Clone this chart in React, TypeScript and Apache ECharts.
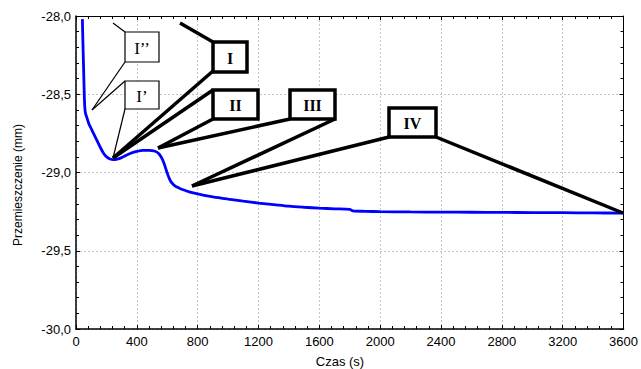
import React, { useEffect, useRef } from "react";
import * as echarts from "echarts";

// Time (s)
const times = [
  42, 45, 49, 53, 57, 62, 70, 85, 100, 120, 140, 160, 180, 200, 220, 245, 270,
  300, 330, 360, 400, 440, 480, 520, 545, 565, 580, 595, 610, 625, 650, 680,
  710, 750, 800, 850, 900, 1000, 1100, 1200, 1300, 1400, 1500, 1600, 1700,
  1800, 1820, 1900, 2000, 2200, 2400, 2600, 2800, 3000, 3200, 3400, 3600,
];
// Displacement (mm)
const displacement = [
  -28.02, -28.15, -28.3, -28.45, -28.57, -28.62, -28.645, -28.69, -28.72,
  -28.76, -28.8, -28.84, -28.875, -28.9, -28.912, -28.918, -28.915, -28.905,
  -28.89, -28.877, -28.865, -28.858, -28.858, -28.864, -28.88, -28.91, -28.945,
  -28.99, -29.03, -29.06, -29.085, -29.1, -29.112, -29.125, -29.137, -29.147,
  -29.156, -29.17, -29.183, -29.195, -29.205, -29.215, -29.222, -29.228,
  -29.232, -29.236, -29.245, -29.248, -29.25, -29.252, -29.253, -29.254,
  -29.255, -29.256, -29.257, -29.258, -29.26,
];

const xTicks = { min: 0, max: 3600, interval: 400 };
const yTicks = { min: -30, max: -28, interval: 0.5 };

const xTitle = "Czas (s)";
const yTitle = "Przemieszczenie (mm)";

const thinLabels = ["I’’", "I’"];
const boldLabels = ["I", "II", "III", "IV"];

export default function App() {
  const ref = useRef<HTMLDivElement>(null);

  useEffect(() => {
    if (!ref.current) return;
    const chart = echarts.init(ref.current, null, { renderer: "svg" });
    const data = times.map((t, i) => [t, displacement[i]]);

    const fmtY = (v: number) => v.toFixed(1).replace(".", ",");
    const fmtX = (v: number) => String(Math.round(v));
    const gridLine = { show: true, lineStyle: { color: "#c4c4c4", type: [2, 2], width: 1 } };
    const axisLine = { show: true, onZero: false, lineStyle: { color: "#000", width: 1.5 } };
    const tick = { show: true, inside: true, length: 4, lineStyle: { color: "#000", width: 1 } };
    const minor = { show: true, splitNumber: 5, length: 3, lineStyle: { color: "#000", width: 1 } };
    const labelFont = { color: "#000", fontSize: 13, fontFamily: "Liberation Sans, Arial, sans-serif" };

    const thin = { stroke: "#000", lineWidth: 1.2, fill: "none" };
    const thick = { stroke: "#000", lineWidth: 3.5, fill: "none" };
    const line = (x1: number, y1: number, x2: number, y2: number, style: any) => ({
      type: "line",
      shape: { x1, y1, x2, y2 },
      style,
      z: 100,
    });
    const box = (x: number, y: number, w: number, h: number, text: string, style: any, bold: boolean, size: number) => ({
      type: "group",
      z: 101,
      children: [
        { type: "rect", shape: { x, y, width: w, height: h }, style: { ...style, fill: "#fff" }, z: 101 },
        {
          type: "text",
          x: x + w / 2,
          y: y + h / 2 + 1,
          style: {
            text,
            fill: "#000",
            font: `${bold ? "bold " : ""}${size}px "Liberation Serif", "Times New Roman", serif`,
            align: "center",
            verticalAlign: "middle",
          },
          z: 102,
        },
      ],
    });

    chart.setOption({
      animation: false,
      backgroundColor: "#fff",
      grid: { left: 76, right: 15, top: 16, bottom: 40, containLabel: false },
      xAxis: [
        {
          type: "value",
          position: "bottom",
          ...xTicks,
          axisLine,
          axisTick: tick,
          minorTick: minor,
          splitLine: gridLine,
          axisLabel: { ...labelFont, margin: 6, formatter: fmtX, showMinLabel: true, showMaxLabel: true },
        },
        {
          type: "value",
          position: "top",
          ...xTicks,
          axisLine: { ...axisLine, lineStyle: { color: "#000", width: 1 } },
          axisTick: tick,
          minorTick: minor,
          splitLine: { show: false },
          axisLabel: { show: false },
        },
      ],
      yAxis: [
        {
          type: "value",
          position: "left",
          ...yTicks,
          axisLine,
          axisTick: tick,
          minorTick: minor,
          splitLine: gridLine,
          axisLabel: { ...labelFont, margin: 5, formatter: fmtY, showMinLabel: true, showMaxLabel: true },
        },
        {
          type: "value",
          position: "right",
          ...yTicks,
          axisLine: { ...axisLine, lineStyle: { color: "#000", width: 1 } },
          axisTick: tick,
          minorTick: minor,
          splitLine: { show: false },
          axisLabel: { show: false },
        },
      ],
      series: [
        {
          type: "line",
          data,
          xAxisIndex: 0,
          yAxisIndex: 0,
          showSymbol: false,
          smooth: 0.3,
          lineStyle: { color: "#0000ff", width: 2.8 },
          z: 5,
        },
      ],
      graphic: [
        {
          type: "text",
          x: 18,
          y: 185,
          rotation: Math.PI / 2,
          style: {
            text: yTitle,
            fill: "#000",
            font: '12px "Liberation Sans", Arial, sans-serif',
            align: "center",
            verticalAlign: "middle",
          },
        },
        {
          type: "text",
          x: 340,
          y: 361,
          style: {
            text: xTitle,
            fill: "#000",
            font: '13px "Liberation Sans", Arial, sans-serif',
            align: "center",
            verticalAlign: "middle",
          },
        },
        // thin callouts
        line(113, 23, 125, 32, thin),
        line(125, 62, 92, 110, thin),
        line(125, 81, 92, 110, thin),
        line(125, 109, 113, 158, thin),
        // thick callouts
        line(180, 23, 213, 42, thick),
        line(213, 71, 113, 158, thick),
        line(213, 90, 113, 158, thick),
        line(213, 119, 158, 148, thick),
        line(290, 119, 158, 148, thick),
        line(335, 119, 192, 186, thick),
        line(389, 137, 192, 186, thick),
        line(436, 137, 623, 213, thick),
        box(125, 32, 34, 30, thinLabels[0], thin, false, 17),
        box(125, 81, 34, 28, thinLabels[1], thin, false, 17),
        box(213, 42, 34, 30, boldLabels[0], thick, true, 16),
        box(213, 90, 45, 29, boldLabels[1], thick, true, 16),
        box(290, 90, 45, 29, boldLabels[2], thick, true, 16),
        box(389, 108, 47, 29, boldLabels[3], thick, true, 16),
      ],
    });

    return () => chart.dispose();
  }, []);

  return (
    <div
      ref={ref}
      style={{ position: "fixed", left: 0, top: 0, width: 641, height: 369, background: "#fff" }}
    />
  );
}
